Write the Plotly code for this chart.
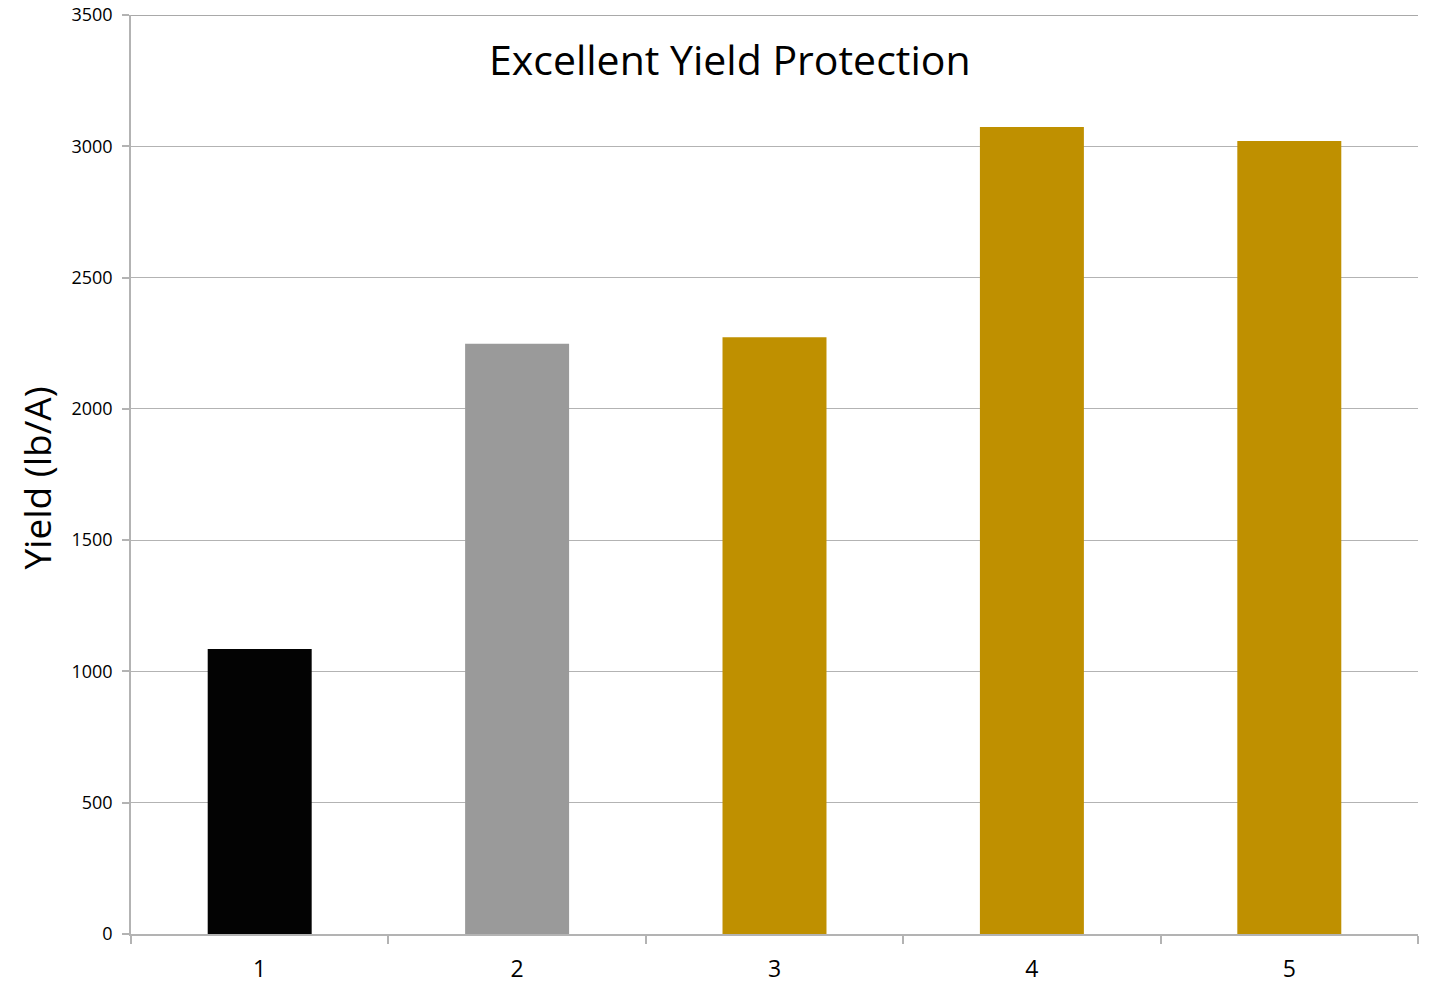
import plotly.graph_objects as go

# Treatment categories and yield values (lb/A)
treatments = ["1", "2", "3", "4", "5"]
yields = [1085, 2248, 2273, 3073, 3020]
bar_colors = ["#030303", "#9a9a9a", "#bf9000", "#bf9000", "#bf9000"]
y_ticks = [0, 500, 1000, 1500, 2000, 2500, 3000, 3500]

FONT = "Open Sans"
GRID = "#b3b3b3"

fig = go.Figure(
    go.Bar(
        x=treatments,
        y=yields,
        marker=dict(color=bar_colors, line=dict(width=0)),
        showlegend=False,
    )
)

fig.update_layout(
    width=1432,
    height=984,
    margin=dict(l=131, r=14, t=15, b=50, autoexpand=False),
    paper_bgcolor="white",
    plot_bgcolor="white",
    bargap=0.596,
    font=dict(family=FONT, color="#000000"),
    annotations=[
        dict(
            text="Excellent Yield Protection",
            xref="paper", yref="paper",
            x=0.4654, y=0.952,
            xanchor="center", yanchor="middle",
            showarrow=False,
            font=dict(size=41, family=FONT),
        ),
        dict(
            text="Yield (lb/A)",
            xref="paper", yref="paper",
            x=-0.0735, y=0.496,
            xanchor="center", yanchor="middle",
            textangle=-90,
            showarrow=False,
            font=dict(size=37, family=FONT),
        ),
    ],
)

fig.update_xaxes(
    type="category",
    tickson="boundaries",
    ticks="outside",
    ticklen=8,
    tickcolor=GRID,
    tickwidth=1.5,
    showline=True,
    linecolor=GRID,
    linewidth=1.5,
    showgrid=False,
    automargin=False,
    tickfont=dict(size=23, family=FONT),
    ticklabelstandoff=14,
)

fig.update_yaxes(
    range=[0, 3500],
    tickvals=y_ticks,
    ticktext=[str(v) for v in y_ticks],
    ticks="outside",
    ticklen=7,
    tickcolor=GRID,
    tickwidth=1.5,
    showline=True,
    linecolor=GRID,
    linewidth=1.5,
    showgrid=True,
    gridcolor=GRID,
    gridwidth=1,
    zeroline=False,
    automargin=False,
    tickfont=dict(size=18, family=FONT),
    ticklabelstandoff=6,
)

# Top edge of the plot area at 3500, drawn slightly darker
fig.add_shape(
    type="line", xref="paper", yref="y",
    x0=0, x1=1, y0=3500, y1=3500,
    line=dict(color="#8c8c8c", width=1.5),
)

fig.write_html("out.html")
